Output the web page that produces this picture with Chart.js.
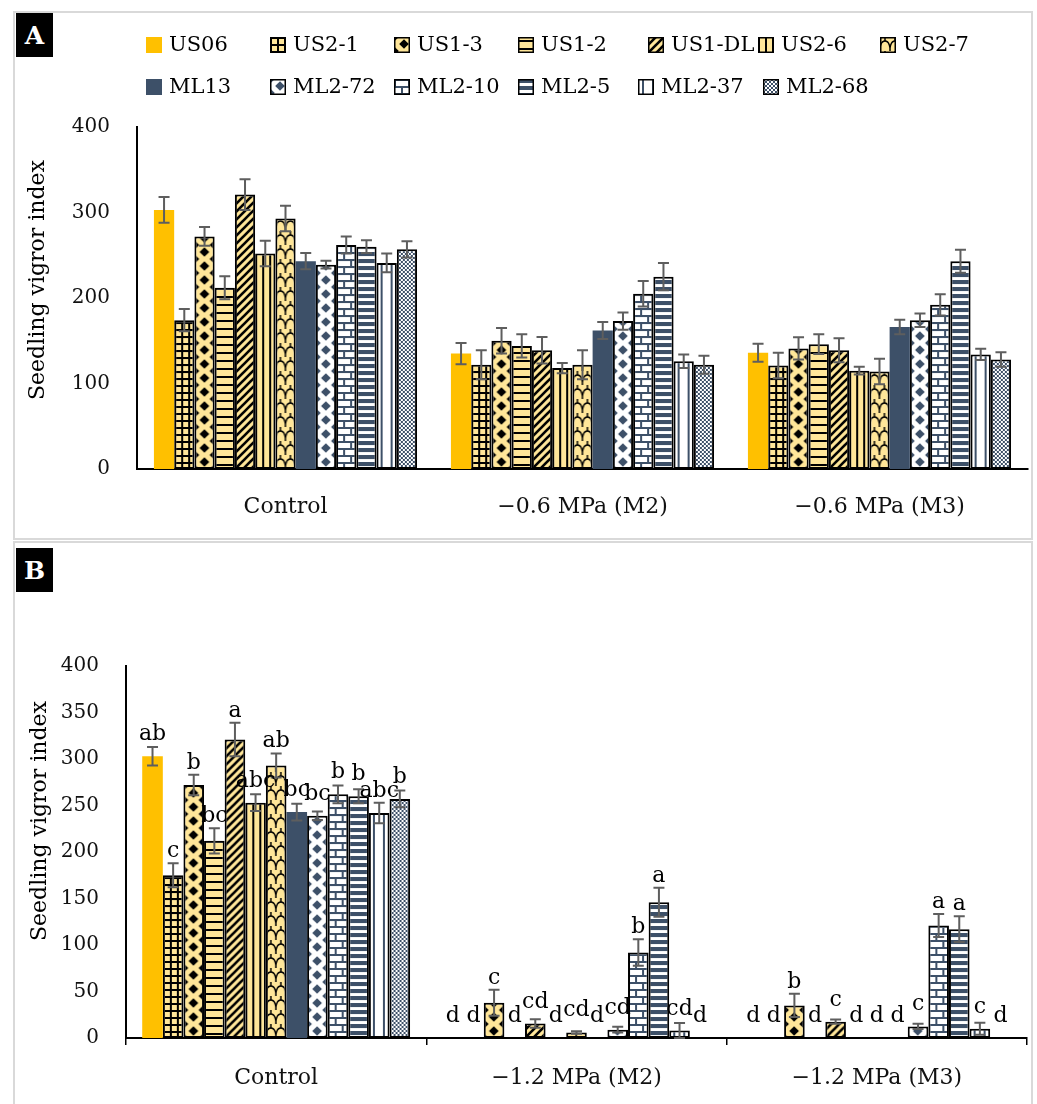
<!DOCTYPE html>
<html>
<head>
<meta charset="utf-8">
<script src="https://cdn.jsdelivr.net/npm/chart.js@4.4.1/dist/chart.umd.min.js"></script>
<style>
  html, body { margin: 0; padding: 0; background: #fff; overflow: hidden; width: 1037px; height: 1104px; }
  .panel { position: absolute; left: 13px; width: 1020px; border: 2px solid #d9d9d9; box-sizing: border-box; }
  canvas { position: absolute; left: 0; }
  .tag { position: absolute; left: 16px; width: 37px; height: 44px; background: #000; color: #fff;
         font: bold 25px 'DejaVu Serif', serif; display: flex; align-items: center; justify-content: center; }
</style>
</head>
<body>
<div class="panel" style="top:11px;height:529px"></div>
<div class="panel" style="top:541px;height:580px;border-bottom:none"></div>
<canvas id="chartA" width="1037" height="540" style="top:0"></canvas>
<canvas id="chartB" width="1037" height="563" style="top:541px"></canvas>
<div class="tag" style="top:13px">A</div>
<div class="tag" style="top:548px">B</div>

<script>
// ---- data -------------------------------------------------------------
const genotypes = ['US06', 'US2-1', 'US1-3', 'US1-2', 'US1-DL', 'US2-6', 'US2-7',
                   'ML13', 'ML2-72', 'ML2-10', 'ML2-5', 'ML2-37', 'ML2-68'];

const treatmentsA = ['Control', '\u22120.6 MPa (M2)', '\u22120.6 MPa (M3)'];
const treatmentsB = ['Control', '\u22121.2 MPa (M2)', '\u22121.2 MPa (M3)'];

// Panel A: seedling vigour index (mean) and error
const vigorA_control = [303, 174, 272, 212, 321, 252, 293, 243, 239, 262, 260, 241, 257];
const vigorA_m2      = [135, 122, 150, 144, 139, 118, 122, 162, 173, 205, 225, 126, 122];
const vigorA_m3      = [136, 121, 141, 146, 139, 115, 114, 166, 174, 192, 243, 134, 128];
const errA_control   = [15, 13, 11, 13.5, 18, 15, 15, 9.5, 4.5, 10, 7.5, 11, 9.5];
const errA_m2        = [12.5, 17, 15, 13.5, 15.5, 6, 17, 10, 10, 15, 16, 8, 10.5];
const errA_m3        = [10.5, 15, 13, 11.5, 14, 4.5, 15, 8.5, 8, 12.5, 13.5, 6.5, 8.5];

// Panel B: seedling vigour index (mean), error and significance letters
const vigorB_control = [303, 175, 272, 212, 321, 253, 293, 243, 239, 262, 260, 242, 257];
const vigorB_m2      = [0, 0, 38, 0, 15.5, 0, 6, 0, 9, 92, 146, 8, 0];
const vigorB_m3      = [0, 0, 35, 0, 17.5, 0, 0, 0, 12.5, 121, 117, 10, 0];
const errB_control   = [10, 13, 11, 13.5, 18, 9, 13, 9, 4.5, 9.5, 7.5, 11, 9];
const errB_m2        = [0, 0, 14, 0, 4.6, 0, 1.3, 0, 3, 14.3, 15.6, 8, 0];
const errB_m3        = [0, 0, 12.5, 0, 2.3, 0, 0, 0, 2.7, 12.4, 13.8, 6.5, 0];
const lettersB_control = ['ab', 'c', 'b', 'bc', 'a', 'abc', 'ab', 'bc', 'bc', 'b', 'b', 'abc', 'b'];
const lettersB_m2      = ['d', 'd', 'c', 'd', 'cd', 'd', 'cd', 'd', 'cd', 'b', 'a', 'cd', 'd'];
const lettersB_m3      = ['d', 'd', 'b', 'd', 'c', 'd', 'd', 'd', 'c', 'a', 'a', 'c', 'd'];

const yTicksA = { min: 0, max: 400, step: 100 };
const yTicksB = { min: 0, max: 400, step: 50 };

// ---- styling ----------------------------------------------------------
const FONT = "'DejaVu Serif', serif";
const GOLD = '#FFC000', CREAM = '#FFE699', NAVY = '#3D5068', INK = '#000000';

function tile(w, h, bg, draw) {
  const c = document.createElement('canvas');
  c.width = w; c.height = h;
  const x = c.getContext('2d');
  x.fillStyle = bg; x.fillRect(0, 0, w, h);
  draw(x, w, h);
  return c;
}
function diamond(x, cx, cy, r) {
  x.beginPath();
  x.moveTo(cx, cy - r); x.lineTo(cx + r, cy); x.lineTo(cx, cy + r); x.lineTo(cx - r, cy);
  x.closePath(); x.fill();
}
// tile painters: each returns a small canvas that is repeated inside a bar
const painters = {
  grid: (fg, bg) => tile(7, 7, bg, x => { x.fillStyle = fg; x.fillRect(0, 0, 7, 2); x.fillRect(0, 0, 2, 7); }),
  diamonds: (fg, bg) => tile(20, 14, bg, x => {
    x.fillStyle = fg;
    diamond(x, 10, 7, 4.8);
    [[0, 0], [20, 0], [0, 14], [20, 14]].forEach(([a, b]) => diamond(x, a, b, 4.8));
  }),
  hlines: (fg, bg) => tile(8, 8, bg, x => { x.fillStyle = fg; x.fillRect(0, 3, 8, 2); }),
  diag: (fg, bg) => tile(8, 8, bg, x => {
    x.strokeStyle = fg; x.lineWidth = 2.6; x.lineCap = 'square';
    [[0, 8, 8, 0], [-2, 2, 2, -2], [6, 10, 10, 6]].forEach(([a, b, c, d]) => {
      x.beginPath(); x.moveTo(a, b); x.lineTo(c, d); x.stroke();
    });
  }),
  vlines: (fg, bg) => tile(7, 7, bg, x => { x.fillStyle = fg; x.fillRect(0, 0, 2, 7); }),
  wave: (fg, bg) => tile(10, 14, bg, x => {
    x.strokeStyle = fg; x.lineWidth = 1.5;
    x.beginPath(); x.moveTo(0, 11); x.quadraticCurveTo(1, 4, 5, 4); x.quadraticCurveTo(9, 4, 10, 11); x.stroke();
    x.beginPath(); x.moveTo(5, 4); x.lineTo(5, 0); x.stroke();
    x.beginPath(); x.moveTo(0, 11); x.lineTo(0, 14); x.moveTo(10, 11); x.lineTo(10, 14); x.stroke();
  }),
  bricks: (fg, bg) => tile(14, 14, bg, x => {
    x.fillStyle = fg;
    x.fillRect(0, 0, 14, 2); x.fillRect(0, 7, 14, 2);
    x.fillRect(0, 0, 2, 7); x.fillRect(7, 7, 2, 7);
  }),
  hbars: (fg, bg) => tile(8, 7, bg, x => { x.fillStyle = fg; x.fillRect(0, 0, 8, 4); }),
  vsparse: (fg, bg) => tile(10, 9, bg, x => { x.fillStyle = fg; x.fillRect(4, 0, 2, 9); }),
  checker: (fg, bg) => tile(4, 4, bg, x => { x.fillStyle = fg; x.fillRect(0, 0, 2, 2); x.fillRect(2, 2, 2, 2); })
};

// fill style for each genotype, in the order of `genotypes`
const genotypeFills = [
  { solid: GOLD },
  { pattern: 'grid', fg: INK, bg: CREAM },
  { pattern: 'diamonds', fg: INK, bg: CREAM },
  { pattern: 'hlines', fg: INK, bg: CREAM },
  { pattern: 'diag', fg: INK, bg: CREAM },
  { pattern: 'vlines', fg: INK, bg: CREAM },
  { pattern: 'wave', fg: INK, bg: CREAM },
  { solid: NAVY },
  { pattern: 'diamonds', fg: NAVY, bg: '#fff' },
  { pattern: 'bricks', fg: NAVY, bg: '#fff' },
  { pattern: 'hbars', fg: NAVY, bg: '#fff' },
  { pattern: 'vsparse', fg: NAVY, bg: '#fff' },
  { pattern: 'checker', fg: NAVY, bg: '#fff' }
];
const tiles = genotypeFills.map(f => f.solid ? null : painters[f.pattern](f.fg, f.bg));
const scratch = document.createElement('canvas').getContext('2d');

// pattern anchored at the bar's own left edge and at the x-axis baseline
function barFill(i, catPct) {
  const f = genotypeFills[i];
  if (f.solid) return f.solid;
  return (c) => {
    const pat = scratch.createPattern(tiles[i], 'repeat');
    const xs = c.chart.scales.x;
    if (c.type === 'data' && xs && c.chart.chartArea) {
      const n = c.chart.data.datasets.length;
      const catW = xs.width / c.chart.data.labels.length;
      const groupW = catW * catPct;
      const left = xs.getPixelForValue(c.dataIndex) - groupW / 2 + c.datasetIndex * groupW / n;
      pat.setTransform(new DOMMatrix().translate(left, c.chart.chartArea.bottom));
    }
    return pat;
  };
}
function legendFill(i, x, y) {
  const f = genotypeFills[i];
  if (f.solid) return f.solid;
  const pat = scratch.createPattern(tiles[i], 'repeat');
  pat.setTransform(new DOMMatrix().translate(x, y));
  return pat;
}

function buildDatasets(series, errors, letters, catPct) {
  return genotypes.map((g, i) => ({
    label: g,
    data: series.map(s => s[i]),
    errors: errors.map(e => e[i]),
    letters: letters ? letters.map(l => l[i]) : null,
    backgroundColor: barFill(i, catPct),
    borderColor: '#000',
    borderWidth: genotypeFills[i].solid ? 0 : 2,
    borderSkipped: false,
    categoryPercentage: catPct,
    barPercentage: 1
  }));
}

// ---- plugins ----------------------------------------------------------
// error bars, then significance letters above them
const errorBarPlugin = {
  id: 'errorBars',
  afterDatasetsDraw(chart) {
    const ctx = chart.ctx, y = chart.scales.y;
    ctx.save();
    chart.data.datasets.forEach((ds, di) => {
      const meta = chart.getDatasetMeta(di);
      meta.data.forEach((bar, j) => {
        const v = ds.data[j], e = ds.errors[j];
        if (!e) return;
        const top = y.getPixelForValue(v + e), bot = y.getPixelForValue(Math.max(0, v - e));
        ctx.strokeStyle = '#5e5e5e'; ctx.lineWidth = 2;
        ctx.beginPath();
        ctx.moveTo(bar.x, top); ctx.lineTo(bar.x, bot);
        ctx.moveTo(bar.x - 5.5, top); ctx.lineTo(bar.x + 5.5, top);
        ctx.moveTo(bar.x - 5.5, bot); ctx.lineTo(bar.x + 5.5, bot);
        ctx.stroke();
      });
    });
    chart.data.datasets.forEach((ds, di) => {
      if (!ds.letters) return;
      const meta = chart.getDatasetMeta(di);
      meta.data.forEach((bar, j) => {
        const v = ds.data[j], e = ds.errors[j];
        const errTop = y.getPixelForValue(v + e), barTop = y.getPixelForValue(v);
        const base = Math.min(errTop - 6, barTop - 16);
        ctx.fillStyle = '#000';
        ctx.font = '22px ' + FONT;
        ctx.textAlign = 'center'; ctx.textBaseline = 'alphabetic';
        ctx.fillText(ds.letters[j], bar.x, base);
      });
    });
    ctx.restore();
  }
};

function yTitlePlugin(x, yc) {
  return {
    id: 'yTitle',
    afterDraw(chart) {
      const ctx = chart.ctx;
      ctx.save();
      ctx.translate(x, yc); ctx.rotate(-Math.PI / 2);
      ctx.fillStyle = '#000'; ctx.font = '22px ' + FONT;
      ctx.textAlign = 'center'; ctx.textBaseline = 'middle';
      ctx.fillText('Seedling vigror index', 0, 0);
      ctx.restore();
    }
  };
}

// two-row legend laid out on fixed columns
const legendLayout = {
  rows: [{ y: 45, items: [0, 1, 2, 3, 4, 5, 6], xs: [146, 270, 394, 518, 648, 758, 880] },
         { y: 87, items: [7, 8, 9, 10, 11, 12], xs: [146, 270, 394, 518, 638, 763] }],
  box: 16
};
const gridLegendPlugin = {
  id: 'gridLegend',
  afterDraw(chart) {
    const ctx = chart.ctx, b = legendLayout.box;
    ctx.save();
    legendLayout.rows.forEach(row => {
      row.items.forEach((di, k) => {
        const ds = chart.data.datasets[di];
        const x = row.xs[k], y = row.y;
        ctx.fillStyle = legendFill(di, x, y - b / 2);
        ctx.fillRect(x, y - b / 2, b, b);
        if (ds.borderWidth) {
          ctx.strokeStyle = '#000'; ctx.lineWidth = 1.5;
          ctx.strokeRect(x + 0.75, y - b / 2 + 0.75, b - 1.5, b - 1.5);
        }
        ctx.fillStyle = '#000'; ctx.font = '21px ' + FONT;
        ctx.textAlign = 'left'; ctx.textBaseline = 'middle';
        ctx.fillText(ds.label, x + b + 7, y + 1);
      });
    });
    ctx.restore();
  }
};

// ---- charts -----------------------------------------------------------
Chart.defaults.font.family = FONT;
Chart.defaults.color = '#1a1a1a';

function makeChart(id, labels, datasets, ticks, geom, withTicks, extraPlugins) {
  return new Chart(document.getElementById(id), {
    type: 'bar',
    data: { labels, datasets },
    options: {
      responsive: false,
      animation: false,
      devicePixelRatio: 1,
      layout: { padding: { top: geom.top, right: geom.right, bottom: geom.bottom, left: 0 } },
      plugins: { legend: { display: false }, tooltip: { enabled: false } },
      scales: {
        x: {
          grid: { display: withTicks, drawOnChartArea: false, drawTicks: withTicks, tickLength: 7, color: '#000', lineWidth: 1.5, offset: true },
          border: { display: true, color: '#000', width: 2 },
          ticks: { font: { size: 22 }, color: '#111', padding: geom.xPad, maxRotation: 0 },
          afterFit(s) { s.height = geom.xHeight; }
        },
        y: {
          min: ticks.min, max: ticks.max,
          grid: { display: false, drawTicks: false },
          border: { display: true, color: '#000', width: 2 },
          ticks: { stepSize: ticks.step, font: { size: 20 }, color: '#111', padding: 27 },
          afterFit(s) { s.width = geom.left; }
        }
      }
    },
    plugins: [errorBarPlugin, ...extraPlugins]
  });
}

makeChart('chartA', treatmentsA,
  buildDatasets([vigorA_control, vigorA_m2, vigorA_m3], [errA_control, errA_m2, errA_m3], null, 0.886),
  yTicksA,
  { top: 127, right: 9, bottom: 11, left: 137, xHeight: 60, xPad: 25 },
  false, [gridLegendPlugin, yTitlePlugin(38, 280)]);

makeChart('chartB', treatmentsB,
  buildDatasets([vigorB_control, vigorB_m2, vigorB_m3], [errB_control, errB_m2, errB_m3],
                [lettersB_control, lettersB_m2, lettersB_m3], 0.892),
  yTicksB,
  { top: 125, right: 10, bottom: 11, left: 126, xHeight: 55, xPad: 20 },
  true, [yTitlePlugin(40, 280)]);
</script>
</body>
</html>
